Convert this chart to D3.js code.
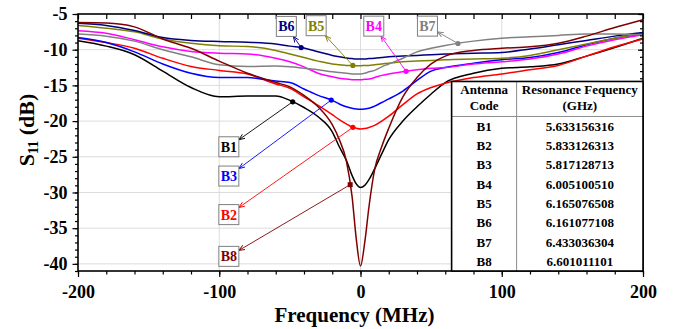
<!DOCTYPE html>
<html>
<head>
<meta charset="utf-8">
<script src="https://cdn.jsdelivr.net/npm/d3@7"></script>
<style>
    body { margin: 0; background: #fff; }
    svg { display: block; font-family: "Liberation Serif", "Times New Roman", serif; font-weight: bold; }
</style>
</head>
<body>
<svg id="chart" width="675" height="329"></svg>
<script>
// frequency offset (MHz), shared by all series
const freq = [-200, -180, -160, -140, -120, -100, -80, -60, -50, -40, -30, -20, -15, -10, -6, -3, 0,
    3, 6, 10, 15, 20, 30, 40, 50, 60, 80, 100, 120, 140, 160, 180, 200];

// S11 (dB)
const b1 = [-8.75, -9.5, -10.7, -13.0, -15.3, -16.6, -16.5, -16.5, -17.1, -18.1, -19.4, -21.5, -23.6, -25.5, -27.6, -28.8, -29.3,
    -29.0, -28.2, -26.7, -24.6, -22.6, -20.0, -18.0, -16.2, -14.6, -13.3, -12.6, -12.4, -12.0, -10.9, -9.7, -8.4];
const b2 = [-8.4, -9.0, -9.8, -11.2, -12.35, -12.9, -13.4, -14.8, -15.4, -16.6, -17.8, -19.1, -19.8, -20.4, -20.85, -21.0, -21.1,
    -21.05, -20.9, -20.6, -20.0, -19.3, -17.7, -16.2, -15.3, -14.7, -13.9, -13.4, -12.8, -12.2, -10.9, -9.6, -8.5];
const b3 = [-8.3, -9.0, -10.3, -12.0, -13.3, -13.9, -13.9, -14.4, -14.6, -15.5, -16.4, -17.1, -17.6, -18.0, -18.2, -18.3, -18.35,
    -18.3, -18.2, -17.9, -17.4, -16.9, -15.8, -14.3, -13.0, -12.5, -11.9, -11.4, -11.1, -10.4, -9.3, -8.4, -7.8];
const b4 = [-7.35, -7.7, -8.6, -9.6, -10.25, -10.5, -10.6, -11.2, -11.7, -12.4, -13.3, -13.8, -14.0, -14.1, -14.2, -14.2, -14.2,
    -14.15, -14.1, -13.9, -13.6, -13.4, -13.1, -12.8, -12.6, -12.5, -12.0, -11.7, -11.3, -10.6, -9.5, -8.6, -7.9];
const b5 = [-6.6, -7.0, -7.5, -8.5, -9.1, -9.45, -9.55, -10.1, -10.6, -11.1, -11.6, -12.0, -12.1, -12.2, -12.2, -12.25, -12.25,
    -12.2, -12.2, -12.1, -12.0, -11.9, -11.7, -11.6, -11.5, -11.4, -11.3, -11.2, -10.8, -10.0, -9.2, -8.4, -7.7];
const b6 = [-6.3, -6.6, -7.3, -8.3, -8.7, -8.85, -8.95, -9.2, -9.5, -9.75, -10.3, -10.8, -11.0, -11.15, -11.25, -11.3, -11.3,
    -11.3, -11.25, -11.2, -11.1, -11.0, -10.9, -10.8, -10.7, -10.6, -10.5, -10.4, -9.9, -9.3, -8.7, -8.1, -7.6];
const b7 = [-7.8, -8.1, -8.8, -10.0, -11.0, -12.1, -12.35, -12.3, -12.4, -12.6, -12.8, -13.1, -13.2, -13.3, -13.4, -13.4, -13.4,
    -13.3, -13.1, -12.9, -12.4, -12.0, -11.2, -10.3, -9.8, -9.4, -8.8, -8.4, -8.2, -8.0, -7.8, -7.8, -7.9];
const b8 = [-6.2, -6.25, -6.8, -8.5, -9.8, -11.6, -13.3, -14.6, -15.2, -16.4, -18.0, -20.5, -22.6, -25.6, -30.5, -36.5, -40.3,
    -37.0, -32.0, -26.8, -23.6, -21.0, -16.6, -13.9, -12.0, -10.9, -10.1, -9.8, -9.6, -9.1, -8.1, -6.9, -5.8];

const codes = ['B1', 'B2', 'B3', 'B4', 'B5', 'B6', 'B7', 'B8'];
const series = [b1, b2, b3, b4, b5, b6, b7, b8];
const colors = ['#000000', '#ff0000', '#0000ff', '#ff00ff', '#808000', '#000080', '#808080', '#800000'];

// annotation: point on the curve (MHz) and label box centre (MHz, dB)
const markFreq = [-48, -5.4, -20.7, 32.3, -5.4, -42, 69, -7.3];
const labelFreq = [-93.2, -93.2, -93.2, 9.4, -31.4, -52.5, 47.4, -93.2];
const labelDb = [-23.6, -33.1, -27.7, -6.7, -6.64, -6.74, -6.7, -38.95];

// inset table
const resonance = ['5.633156316', '5.833126313', '5.817128713', '6.005100510',
    '6.165076508', '6.161077108', '6.433036304', '6.601011101'];

const xMajor = [-200, -100, 0, 100, 200];
const xMinor = d3.range(-200, 201, 20);
const yMajor = [-5, -10, -15, -20, -25, -30, -35, -40];
const yMinor = d3.range(-41, -4, 1);

const W = 675, H = 329;
const margin = {top: 14, right: 32, bottom: 58, left: 78};
const width = W - margin.left - margin.right;
const height = H - margin.top - margin.bottom;

const svg = d3.select('#chart');
const chart = svg.append('g').attr('transform', `translate(${margin.left},${margin.top})`);

const x = d3.scaleLinear().domain([-200, 200]).range([0, width]);
const y = d3.scaleLinear().domain([-41, -5]).range([height, 0]);

// grid
chart.append('g').selectAll('line')
    .data(xMajor.filter(d => d > -200 && d < 200))
    .join('line')
    .attr('x1', d => x(d)).attr('x2', d => x(d))
    .attr('y1', 0).attr('y2', height)
    .attr('stroke', '#dcdcdc').attr('stroke-width', 1);
chart.append('g').selectAll('line')
    .data(yMajor.filter(d => d < -5))
    .join('line')
    .attr('x1', 0).attr('x2', width)
    .attr('y1', d => y(d)).attr('y2', d => y(d))
    .attr('stroke', '#dcdcdc').attr('stroke-width', 1);

// curves
const line = d3.line()
    .x((d, i) => x(freq[i]))
    .y(d => y(d))
    .curve(d3.curveMonotoneX);

chart.append('g').selectAll('path')
    .data(series)
    .join('path')
    .attr('d', d => line(d))
    .attr('fill', 'none')
    .attr('stroke', (d, i) => colors[i])
    .attr('stroke-width', 1.5);

// axes
function styleAxis(g) {
    g.select('.domain').remove();
    g.selectAll('.tick line').attr('stroke', '#000').attr('stroke-width', 1.2);
    g.selectAll('.tick text').attr('fill', '#000').style('font-size', '18px')
        .style('font-family', '"Liberation Serif", "Times New Roman", serif').style('font-weight', 'bold');
}

chart.append('g').attr('transform', `translate(0,${height})`)
    .call(d3.axisBottom(x).tickValues(xMinor).tickSize(3.5).tickFormat(''))
    .call(styleAxis);
chart.append('g').attr('transform', `translate(0,${height})`)
    .call(d3.axisBottom(x).tickValues(xMajor).tickSize(6).tickPadding(8).tickFormat(d => String(d)))
    .call(styleAxis);
chart.append('g')
    .call(d3.axisTop(x).tickValues(xMinor).tickSize(-5).tickFormat(''))
    .call(styleAxis);

chart.append('g')
    .call(d3.axisLeft(y).tickValues(yMinor).tickSize(3).tickFormat(''))
    .call(styleAxis);
chart.append('g')
    .call(d3.axisLeft(y).tickValues(yMajor).tickSize(5.5).tickPadding(5).tickFormat(d => String(d)))
    .call(styleAxis);
chart.append('g').attr('transform', `translate(${width},0)`)
    .call(d3.axisRight(y).tickValues(yMinor).tickSize(-3).tickFormat(''))
    .call(styleAxis);
chart.append('g').attr('transform', `translate(${width},0)`)
    .call(d3.axisRight(y).tickValues(yMajor).tickSize(-5).tickFormat(''))
    .call(styleAxis);

chart.append('rect')
    .attr('width', width).attr('height', height)
    .attr('fill', 'none').attr('stroke', '#000').attr('stroke-width', 1.6);

// table
const tableX = x(64.5);
const tableY = y(-14.45);
const tableW = width - tableX;
const headerH = 35;
const col1 = 65;
const rowH = (height - tableY - headerH) / codes.length;

const table = chart.append('g').attr('transform', `translate(${tableX},${tableY})`);
table.append('rect')
    .attr('width', tableW).attr('height', height - tableY)
    .attr('fill', '#fff');
table.append('line')
    .attr('x1', col1).attr('x2', col1).attr('y1', 0).attr('y2', height - tableY)
    .attr('stroke', '#8c8c8c').attr('stroke-width', 1);
table.append('line')
    .attr('x1', 0).attr('x2', tableW).attr('y1', headerH).attr('y2', headerH)
    .attr('stroke', '#8c8c8c').attr('stroke-width', 1);
table.append('rect')
    .attr('width', tableW).attr('height', height - tableY)
    .attr('fill', 'none').attr('stroke', '#000').attr('stroke-width', 1.6);

const headTxt = table.append('g').style('font-size', '13px').attr('text-anchor', 'middle');
headTxt.append('text').attr('x', col1 / 2).attr('y', 13).text('Antenna');
headTxt.append('text').attr('x', col1 / 2).attr('y', 28.5).text('Code');
headTxt.append('text').attr('x', col1 + (tableW - col1) / 2).attr('y', 13).text('Resonance Fequency');
headTxt.append('text').attr('x', col1 + (tableW - col1) / 2).attr('y', 28.5).text('(GHz)');

const rows = table.append('g').style('font-size', '13px').attr('text-anchor', 'middle')
    .selectAll('g')
    .data(codes)
    .join('g')
    .attr('transform', (d, i) => `translate(0,${headerH + rowH * (i + 0.5)})`);
rows.append('text').attr('x', col1 / 2).attr('dy', '0.35em').text(d => d);
rows.append('text').attr('x', col1 + (tableW - col1) / 2).attr('dy', '0.35em').text((d, i) => resonance[i]);

// arrow heads
const defs = svg.append('defs');
colors.forEach((c, i) => {
    defs.append('marker')
        .attr('id', 'arrow' + i)
        .attr('viewBox', '0 0 10 10')
        .attr('refX', 10).attr('refY', 5)
        .attr('markerWidth', 6).attr('markerHeight', 6)
        .attr('markerUnits', 'userSpaceOnUse')
        .attr('orient', 'auto')
        .append('path')
        .attr('d', 'M0,1L10,5L0,9')
        .attr('fill', 'none')
        .attr('stroke', c)
        .attr('stroke-width', 1.5);
});

// annotations: the point sits on the curve, arrow runs to the label box edge
const boxHalf = 10;
const annots = codes.map((code, i) => {
    const f = markFreq[i];
    const j = d3.bisectRight(freq, f) - 1;
    const t = (f - freq[j]) / (freq[j + 1] - freq[j]);
    const val = series[i][j] + t * (series[i][j + 1] - series[i][j]);
    const px = x(f), py = y(val);
    const cx = x(labelFreq[i]), cy = y(labelDb[i]);
    const dx = px - cx, dy = py - cy;
    const s = Math.min(boxHalf / Math.abs(dx || 1e-6), boxHalf / Math.abs(dy || 1e-6));
    return {code, i, px, py, cx, cy, ex: cx + dx * s, ey: cy + dy * s};
});

const ann = chart.append('g');
ann.selectAll('line')
    .data(annots)
    .join('line')
    .attr('x1', d => d.px).attr('y1', d => d.py)
    .attr('x2', d => d.ex).attr('y2', d => d.ey)
    .attr('stroke', d => colors[d.i])
    .attr('stroke-width', 0.9)
    .attr('marker-end', d => `url(#arrow${d.i})`);

ann.selectAll('.dot')
    .data(annots)
    .join(enter => enter.append(d => document.createElementNS('http://www.w3.org/2000/svg', d.code === 'B8' ? 'rect' : 'circle')))
    .attr('class', 'dot')
    .each(function (d) {
        const el = d3.select(this);
        if (d.code === 'B8') {
            el.attr('x', d.px - 2.5).attr('y', d.py - 2.5).attr('width', 5).attr('height', 5);
        } else {
            el.attr('cx', d.px).attr('cy', d.py).attr('r', 2.6);
        }
        el.attr('fill', colors[d.i]);
    });

const boxes = ann.selectAll('.lbl')
    .data(annots)
    .join('g')
    .attr('class', 'lbl')
    .attr('transform', d => `translate(${d.cx},${d.cy})`);
boxes.append('rect')
    .attr('x', -boxHalf).attr('y', -boxHalf)
    .attr('width', boxHalf * 2).attr('height', boxHalf * 2)
    .attr('fill', '#fff')
    .attr('stroke', '#7f7f7f').attr('stroke-width', 1);
boxes.append('text')
    .attr('text-anchor', 'middle')
    .attr('dy', '0.36em')
    .style('font-size', '14px')
    .attr('fill', d => colors[d.i])
    .text(d => d.code);

// axis titles
svg.append('text')
    .attr('x', margin.left + width / 2 - 6)
    .attr('y', 322)
    .attr('text-anchor', 'middle')
    .style('font-size', '21px')
    .text('Frequency (MHz)');

const yTitle = svg.append('text')
    .attr('transform', `translate(34,${margin.top + 116}) rotate(-90)`)
    .attr('text-anchor', 'middle')
    .style('font-size', '22px');
yTitle.append('tspan').text('S');
yTitle.append('tspan').attr('dy', 4).style('font-size', '14px').text('11');
yTitle.append('tspan').attr('dy', -4).text(' (dB)');
</script>
</body>
</html>
